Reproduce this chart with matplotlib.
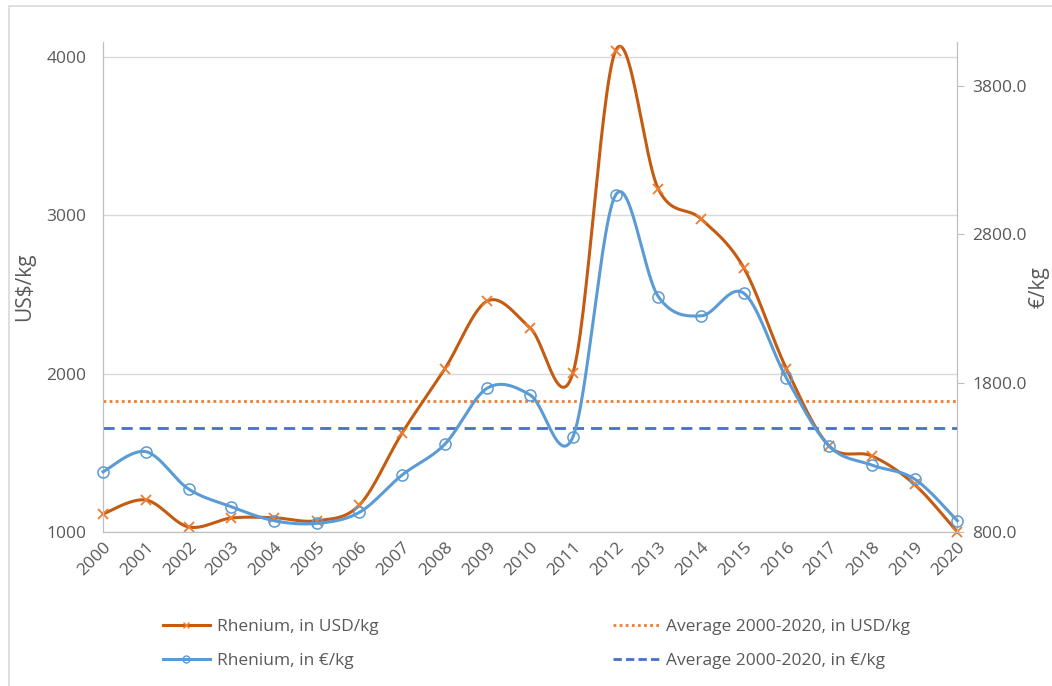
import numpy as np
import matplotlib
matplotlib.use("Agg")
import matplotlib.pyplot as plt
from matplotlib.lines import Line2D
from matplotlib.patches import Rectangle

plt.rcParams['font.family'] = ['Open Sans', 'DejaVu Sans']

# Data
years = list(range(2000, 2021))
usd_per_kg = [1114, 1202, 1032, 1088, 1090, 1071, 1170, 1625, 2030, 2459, 2288,
              2004, 4040, 3166, 2977, 2668, 2030, 1543, 1480, 1300, 1000]
eur_per_kg = [1205, 1340, 1089, 970, 876, 858, 932, 1183, 1390, 1768, 1721,
              1439, 3066, 2382, 2253, 2405, 1834, 1378, 1250, 1156, 876]
avg_usd = 1827
avg_eur = 1497

C_USD_LINE = '#C55A11'
C_USD_MARK = '#ED7D31'
C_EUR = '#5B9BD5'
C_AVG_EUR = '#4472C4'
TXT = '#595959'


def smooth(x, y, n=30):
    # Excel-like smoothed line: cubic Bezier through the points
    x = np.asarray(x, float)
    y = np.asarray(y, float)
    px, py = [], []
    t = np.linspace(0, 1, n)
    for i in range(len(x) - 1):
        x0, y0 = x[i], y[i]
        x3, y3 = x[i + 1], y[i + 1]
        xm, ym = (x[i - 1], y[i - 1]) if i > 0 else (x0, y0)
        xp, yp = (x[i + 2], y[i + 2]) if i + 2 < len(x) else (x3, y3)
        x1, y1 = x0 + (x3 - xm) / 6, y0 + (y3 - ym) / 6
        x2, y2 = x3 - (xp - x0) / 6, y3 - (yp - y0) / 6
        bx = (1 - t) ** 3 * x0 + 3 * (1 - t) ** 2 * t * x1 + 3 * (1 - t) * t ** 2 * x2 + t ** 3 * x3
        by = (1 - t) ** 3 * y0 + 3 * (1 - t) ** 2 * t * y1 + 3 * (1 - t) * t ** 2 * y2 + t ** 3 * y3
        px.extend(bx)
        py.extend(by)
    return np.array(px), np.array(py)


fig = plt.figure(figsize=(10.52, 6.86), dpi=100)
fig.patches.append(Rectangle((0.0085, -0.01), 1.2, 1.001, transform=fig.transFigure,
                             fill=False, edgecolor='#D9D9D9', lw=1.2))

ax = fig.add_axes([0.098, 0.2245, 0.812, 0.7145])
ax2 = ax.twinx()

ax.set_xlim(2000, 2020)
ax.set_ylim(1000, 4095)
ax2.set_ylim(800, 4095)

ax.set_yticks([1000, 2000, 3000, 4000])
ax.grid(axis='y', color='#D9D9D9', lw=1.0)
ax.set_axisbelow(True)
ax2.set_yticks([800, 1800, 2800, 3800])
ax2.set_yticklabels(['800.0', '1800.0', '2800.0', '3800.0'])

ax.set_xticks(years)
ax.set_xticklabels([str(y) for y in years], rotation=45, ha='right',
                   rotation_mode='anchor')

for a in (ax, ax2):
    a.spines['top'].set_visible(False)
    for s in ('left', 'right', 'bottom'):
        a.spines[s].set_color('#BFBFBF')
    a.tick_params(colors=TXT, labelsize=12.5)
ax.tick_params(axis='y', length=0, pad=12)
ax.tick_params(axis='x', length=0, pad=5)
ax2.tick_params(axis='y', length=5, color='#BFBFBF', pad=6)

ax.set_ylabel('US$/kg', color=TXT, fontsize=15)
ax.yaxis.set_label_coords(-0.08, 0.5)
ax2.set_ylabel('€/kg', color=TXT, fontsize=15)
ax2.yaxis.set_label_coords(1.083, 0.5)

# averages
ax.axhline(avg_usd, color=C_USD_MARK, ls=(0, (1, 1.2)), lw=2.0)
ax2.axhline(avg_eur, color=C_AVG_EUR, ls=(0, (4, 2.5)), lw=2.0)

sx, sy = smooth(years, usd_per_kg)
ax.plot(sx, sy, color=C_USD_LINE, lw=2.2, zorder=3, clip_on=False)
ax.plot(years, usd_per_kg, ls='none', marker='x', ms=7, mew=1.3,
        color=C_USD_MARK, zorder=4, clip_on=False)

ex, ey = smooth(years, eur_per_kg)
ax2.plot(ex, ey, color=C_EUR, lw=2.2, zorder=3, clip_on=False)
ax2.plot(years, eur_per_kg, ls='none', marker='o', ms=8, mew=1.1,
         mfc='none', mec=C_EUR, zorder=4, clip_on=False)

handles = [
    Line2D([], [], color=C_USD_LINE, lw=2.2, marker='x', ms=5, mec=C_USD_MARK),
    Line2D([], [], color=C_EUR, lw=2.2, marker='o', ms=5, mfc='none', mec=C_EUR),
    Line2D([], [], color=C_USD_MARK, ls=(0, (1, 1.2)), lw=2.0),
    Line2D([], [], color=C_AVG_EUR, ls=(0, (3, 1.5)), lw=2.0),
]
labels = ['Rhenium, in USD/kg', 'Rhenium, in €/kg',
          'Average 2000-2020, in USD/kg', 'Average 2000-2020, in €/kg']
leg = fig.legend(handles, labels, ncol=2, loc='center', bbox_to_anchor=(0.51, 0.061),
                 frameon=False, fontsize=12.5, columnspacing=13.5, handlelength=2.7,
                 handletextpad=0.4, labelspacing=1.0)
for t in leg.get_texts():
    t.set_color(TXT)

fig.savefig('out.png', dpi=100)
